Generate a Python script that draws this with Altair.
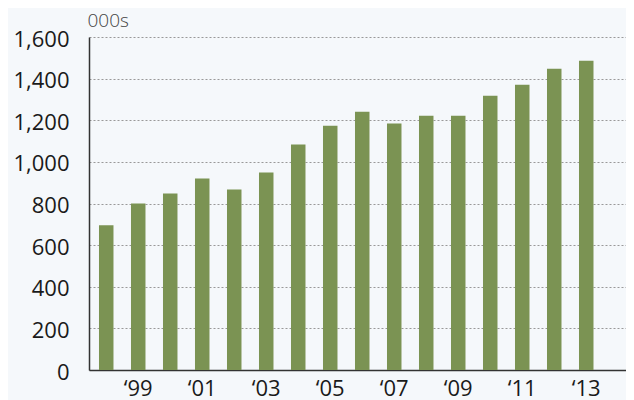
import altair as alt
import pandas as pd

years = [str(y) for y in range(1998, 2014)]
values = [695, 800, 848, 920, 867, 949, 1083, 1174, 1241, 1184, 1222, 1222, 1318, 1371, 1447, 1486]
tick_years = ["1999", "2001", "2003", "2005", "2007", "2009", "2011", "2013"]
y_ticks = [0, 200, 400, 600, 800, 1000, 1200, 1400, 1600]

df = pd.DataFrame({"year": years, "value": values})

FONT = "Open Sans"

chart = alt.Chart(df).mark_bar(color="#7b9353").encode(
    x=alt.X(
        "year:N",
        sort=years,
        scale=alt.Scale(paddingInner=0.547, paddingOuter=0.664, align=0.235),
        axis=alt.Axis(
            values=tick_years,
            labelExpr="'\u2018' + slice(datum.value, 2)",
            title=None,
            labelAngle=0,
            ticks=False,
            labelFontSize=22,
            labelFont=FONT,
            labelColor="#1a1a1a",
            labelPadding=8,
            domainColor="#333333",
            domainWidth=1.5,
            grid=False,
        ),
    ),
    y=alt.Y(
        "value:Q",
        scale=alt.Scale(domain=[0, 1600], nice=False),
        axis=alt.Axis(
            values=y_ticks,
            format=",d",
            title="000s",
            titleAngle=0,
            titleAlign="left",
            titleBaseline="bottom",
            titleX=-2,
            titleY=-7,
            titleFont=FONT,
            titleFontSize=19,
            titleFontWeight=300,
            titleColor="#444444",
            ticks=False,
            labelFontSize=22,
            labelFont=FONT,
            labelColor="#1a1a1a",
            labelPadding=20,
            labelOffset=2,
            domainColor="#333333",
            domainWidth=1.5,
            grid=True,
            gridColor="#999999",
            gridDash=[2, 2],
            gridWidth=1,
        ),
    ),
).properties(
    width=537,
    height=333,
    autosize=alt.AutoSizeParams(type="none"),
    padding={"left": 81, "top": 29, "right": 0, "bottom": 30},
    background="#f5f8fb",
).configure_view(stroke=None)

chart.save("out.html", embed_options={"renderer": "svg", "actions": False})
